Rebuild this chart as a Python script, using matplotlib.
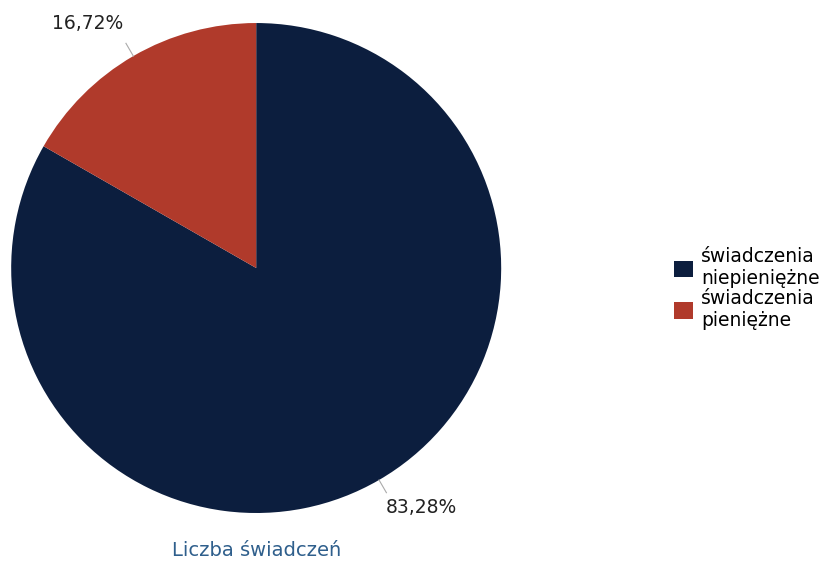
import numpy as np
import matplotlib.pyplot as plt
from matplotlib.patches import Patch

plt.rcParams['font.family'] = ['DejaVu Sans']

labels = ['świadczenia\nniepieniężne', 'świadczenia\npieniężne']
values = [83.28, 16.72]
colors = ['#0c1e3e', '#b03a2b']
pct_text = ['83,28%', '16,72%']

fig = plt.figure(figsize=(8.28, 5.63), dpi=100)
ax = fig.add_axes([0.0135, 0.0888, 0.5918, 0.8703])
wedges, _ = ax.pie(values, colors=colors, startangle=90, counterclock=False,
                   radius=1.0, wedgeprops=dict(linewidth=0))
ax.set_xlim(-1, 1)
ax.set_ylim(-1, 1)
ax.set_aspect('auto')

# labels with short leader lines
text_pos = [(0.676, -0.976), (-0.69, 1.0)]
for w, t, pos in zip(wedges, pct_text, text_pos):
    ang = np.deg2rad((w.theta1 + w.theta2) / 2)
    x0, y0 = np.cos(ang), np.sin(ang)
    ax.plot([x0, x0 * 1.06], [y0, y0 * 1.06], color='#aaaaaa', lw=0.8, clip_on=False)
    ax.text(pos[0], pos[1], t, ha='center', va='center', fontsize=13.5, color='#222222')

ax.text(0.0, -1.153, 'Liczba świadczeń', ha='center', va='center', fontsize=14,
        color='#2f5f8c')

handles = [Patch(facecolor=c, edgecolor='none') for c in colors]
fig.legend(handles, labels, loc='center left', bbox_to_anchor=(0.805, 0.487),
           frameon=False, fontsize=13.5, handlelength=1.0, handleheight=1.0,
           handletextpad=0.45, labelspacing=0.05, borderaxespad=0)

fig.savefig('out.png', dpi=100)
